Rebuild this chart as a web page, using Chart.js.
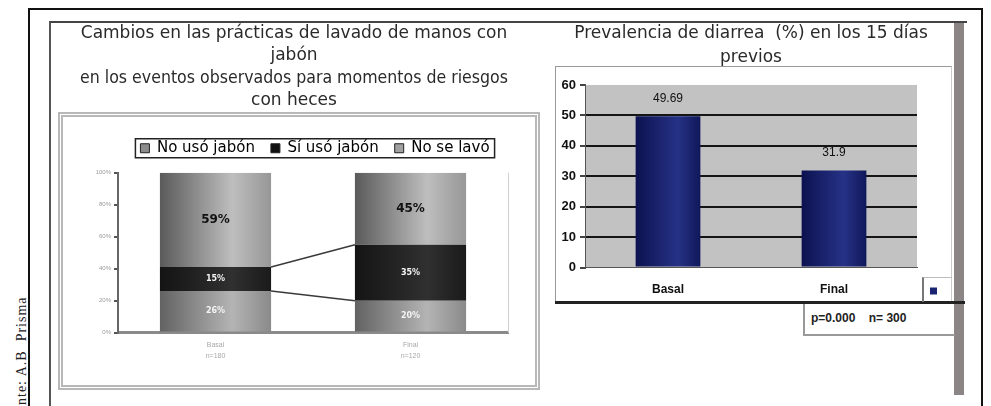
<!DOCTYPE html>
<html>
<head>
<meta charset="utf-8">
<script src="https://cdn.jsdelivr.net/npm/chart.js@4.4.0/dist/chart.umd.min.js"></script>
<style>
body{margin:0;background:#fff;width:991px;height:406px;overflow:hidden;position:relative;font-family:"DejaVu Sans",sans-serif}
.abs{position:absolute}
</style>
</head>
<body>
<div class="abs" style="left:28px;top:8px;width:951px;height:420px;border:2px solid #111"></div>
<div class="abs" style="left:49px;top:21px;width:916px;height:400px;border-left:2px solid #555;border-top:2px solid #444"></div>
<div class="abs" style="left:954px;top:23px;width:10px;height:372px;background:#8c8585"></div>
<div class="abs" style="left:58px;top:112px;width:472px;height:268px;border:5px double #b8b8b8"></div>
<div class="abs" style="left:555px;top:66px;width:395px;height:235px;border-left:1px solid #999;border-top:1px solid #999;border-right:1px solid #ccc"></div>
<div class="abs" style="left:555px;top:301px;width:410px;height:3px;background:#222"></div>
<div class="abs" style="left:922px;top:277px;width:28px;height:24px;border-left:2px solid #777;border-top:1px solid #bbb"></div>
<div class="abs" style="left:803px;top:304px;width:150px;height:30px;border-left:2px solid #999;border-bottom:2px solid #999"></div>
<div class="abs" style="left:811px;top:311px;font:bold 12px 'Liberation Sans';color:#222">p=0.000&nbsp;&nbsp;&nbsp;&nbsp;n= 300</div>
<div class="abs" style="left:14px;top:429px;transform-origin:0 0;transform:rotate(-90deg);font:14px 'Liberation Serif';letter-spacing:1px;white-space:nowrap;color:#222">Fuente: A.B&nbsp;&nbsp;Prisma</div>

<canvas id="izq" class="abs" style="left:50px;top:22px" width="490" height="373"></canvas>
<canvas id="der" class="abs" style="left:540px;top:22px" width="413" height="290"></canvas>

<script>
// grafica de practicas de lavado (100% apilado)
const categoriasLavado = [['Basal', 'n=180'], ['Final', 'n=120']];
const nombresSeries = ['No usó jabón', 'Sí usó jabón', 'No se lavó'];
const noUsoJabon = [26, 20];
const siUsoJabon = [15, 35];
const noSeLavo = [59, 45];

// grafica de prevalencia de diarrea
const categoriasDiarrea = ['Basal', 'Final'];
const prevalencia = [49.69, 31.9];

const tonosGris = [
    ['#626262', '#b4b4b4', '#8a8a8a'],
    ['#141414', '#303030', '#1a1a1a'],
    ['#5a5a5a', '#bebebe', '#979797']
];
const coloresLeyenda = ['#8c8c8c', '#111111', '#a0a0a0'];
const tonoAzul = ['#0c1250', '#263286', '#10185a'];

function degradado(context, tonos, ancho){
    const chart = context.chart;
    const x = chart.scales.x;
    if(!x || !x.width){ return tonos[1]; }
    const cx = x.getPixelForValue(context.dataIndex);
    const w = x.width / x.ticks.length * ancho;
    const g = chart.ctx.createLinearGradient(cx - w / 2, 0, cx + w / 2, 0);
    g.addColorStop(0, tonos[0]);
    g.addColorStop(0.65, tonos[1]);
    g.addColorStop(1, tonos[2]);
    return g;
}

const moverLeyenda = {
    id: 'moverLeyenda',
    afterLayout(chart, args, opts){
        const l = chart.legend;
        l.left += opts.dx || 0; l.right += opts.dx || 0;
        l.top += opts.dy || 0; l.bottom += opts.dy || 0;
    }
};

const extrasIzq = {
    id: 'extrasIzq',
    afterDatasetsDraw(chart){
        const ctx = chart.ctx;
        const y = chart.scales.y;
        const area = chart.chartArea;
        ctx.save();
        // borde derecho del area
        ctx.strokeStyle = '#cfcfcf';
        ctx.lineWidth = 1;
        ctx.beginPath();
        ctx.moveTo(area.right + 0.5, area.top);
        ctx.lineTo(area.right + 0.5, area.bottom);
        ctx.stroke();
        // lineas de serie
        const b0 = chart.getDatasetMeta(0).data;
        ctx.strokeStyle = '#3a3a3a';
        ctx.lineWidth = 1.5;
        let acum0 = 0, acum1 = 0;
        for(let d = 0; d < 2; d++){
            acum0 += chart.data.datasets[d].data[0];
            acum1 += chart.data.datasets[d].data[1];
            ctx.beginPath();
            ctx.moveTo(b0[0].x + b0[0].width / 2, y.getPixelForValue(acum0));
            ctx.lineTo(b0[1].x - b0[1].width / 2, y.getPixelForValue(acum1));
            ctx.stroke();
        }
        // etiquetas
        ctx.textAlign = 'center';
        ctx.textBaseline = 'middle';
        chart.data.datasets.forEach((ds, i) => {
            chart.getDatasetMeta(i).data.forEach((el, j) => {
                const cy = (el.y + el.base) / 2;
                if(i === 2){
                    ctx.fillStyle = '#111';
                    ctx.font = 'bold 12px "DejaVu Sans"';
                } else {
                    ctx.fillStyle = '#f4f4f4';
                    ctx.font = 'bold 8px "DejaVu Sans"';
                }
                ctx.fillText(ds.data[j] + '%', el.x, cy);
            });
        });
        ctx.restore();
    },
    afterDraw(chart){
        const cajas = chart.legend.legendHitBoxes;
        if(!cajas || !cajas.length){ return; }
        const ctx = chart.ctx;
        let izq = Infinity, der = -Infinity, arr = Infinity, abj = -Infinity;
        cajas.forEach(c => {
            izq = Math.min(izq, c.left); der = Math.max(der, c.left + c.width);
            arr = Math.min(arr, c.top); abj = Math.max(abj, c.top + c.height);
        });
        ctx.save();
        ctx.strokeStyle = '#222';
        ctx.lineWidth = 1.5;
        ctx.strokeRect(izq - 5, arr - 2, der - izq + 10, abj - arr + 4);
        ctx.restore();
    }
};

new Chart(document.getElementById('izq'), {
    type: 'bar',
    data: {
        labels: categoriasLavado,
        datasets: [
            {label: nombresSeries[0], data: noUsoJabon, backgroundColor: c => degradado(c, tonosGris[0], 0.57)},
            {label: nombresSeries[1], data: siUsoJabon, backgroundColor: c => degradado(c, tonosGris[1], 0.57)},
            {label: nombresSeries[2], data: noSeLavo, backgroundColor: c => degradado(c, tonosGris[2], 0.57)}
        ]
    },
    options: {
        responsive: false,
        animation: false,
        datasets: {bar: {categoryPercentage: 1, barPercentage: 0.57, borderWidth: 0}},
        layout: {padding: {left: 30, right: 32, top: 0, bottom: 26}},
        plugins: {
            title: {
                display: true,
                text: ['Cambios en las prácticas de lavado de manos con', 'jabón', 'en los eventos observados para momentos de riesgos', 'con heces'],
                font: {family: 'DejaVu Sans', size: 17, weight: 'normal', lineHeight: 1.32},
                color: '#2a2a2a',
                padding: {top: 0, bottom: 20}
            },
            legend: {
                position: 'top',
                labels: {
                    font: {family: 'DejaVu Sans', size: 15},
                    color: '#111',
                    boxWidth: 9,
                    boxHeight: 9,
                    padding: 16,
                    generateLabels: chart => chart.data.datasets.map((ds, i) => ({
                        text: ds.label, fillStyle: coloresLeyenda[i], strokeStyle: '#222', lineWidth: 1, datasetIndex: i
                    }))
                }
            },
            moverLeyenda: {dx: 21, dy: -7},
            tooltip: {enabled: false}
        },
        scales: {
            x: {
                stacked: true,
                grid: {display: false, drawTicks: false},
                border: {color: '#8a8a8a', width: 3},
                ticks: {font: {family: 'Liberation Sans', size: 7, lineHeight: 1.6}, color: '#a8a8a8', padding: 7}
            },
            y: {
                stacked: true,
                min: 0,
                max: 100,
                ticks: {stepSize: 20, callback: v => v + '%', font: {family: 'Liberation Sans', size: 6}, color: '#9a9a9a', padding: 3},
                grid: {drawOnChartArea: false, tickLength: 4, color: '#555', lineWidth: 2},
                border: {color: '#666', width: 2},
                afterFit: s => { s.width = 38; }
            }
        }
    },
    plugins: [moverLeyenda, extrasIzq]
});

const extrasDer = {
    id: 'extrasDer',
    beforeDraw(chart){
        const a = chart.chartArea;
        const ctx = chart.ctx;
        ctx.save();
        ctx.fillStyle = '#c2c2c2';
        ctx.fillRect(a.left, a.top, a.right - a.left, a.bottom - a.top);
        ctx.restore();
    },
    afterDatasetsDraw(chart){
        const ctx = chart.ctx;
        ctx.save();
        ctx.fillStyle = '#111';
        ctx.font = '12px "Liberation Sans"';
        ctx.textAlign = 'center';
        ctx.textBaseline = 'middle';
        chart.getDatasetMeta(0).data.forEach((el, j) => {
            ctx.fillText(String(chart.data.datasets[0].data[j]), el.x, el.y - 18);
        });
        ctx.restore();
    }
};

new Chart(document.getElementById('der'), {
    type: 'bar',
    data: {
        labels: categoriasDiarrea,
        datasets: [{label: '', data: prevalencia, backgroundColor: c => degradado(c, tonoAzul, 0.39)}]
    },
    options: {
        responsive: false,
        animation: false,
        datasets: {bar: {categoryPercentage: 1, barPercentage: 0.39, borderWidth: 0}},
        layout: {padding: {left: 10, right: 1, top: 0, bottom: 0}},
        plugins: {
            title: {
                display: true,
                text: ['Prevalencia de diarrea  (%) en los 15 días', 'previos'],
                font: {family: 'DejaVu Sans', size: 17, weight: 'normal', lineHeight: 1.41},
                color: '#2a2a2a',
                padding: {top: 0, bottom: 15}
            },
            legend: {
                position: 'right',
                align: 'end',
                labels: {
                    boxWidth: 7,
                    boxHeight: 7,
                    padding: 13,
                    font: {size: 10},
                    generateLabels: () => [{text: '', fillStyle: '#1b2470', strokeStyle: '#1b2470', lineWidth: 0, datasetIndex: 0}]
                }
            },
            moverLeyenda: {dx: 0, dy: -3},
            tooltip: {enabled: false}
        },
        scales: {
            x: {
                grid: {display: false, drawTicks: false},
                border: {color: '#555', width: 1},
                ticks: {font: {family: 'Liberation Sans', size: 12, weight: 'bold'}, color: '#111', padding: 15}
            },
            y: {
                min: 0,
                max: 60,
                ticks: {stepSize: 10, font: {family: 'Liberation Sans', size: 13, weight: 'bold'}, color: '#111', padding: 4},
                grid: {
                    color: c => (c.tick && (c.tick.value === 60 || c.tick.value === 0)) ? 'rgba(0,0,0,0)' : '#151515',
                    lineWidth: 2,
                    tickLength: 5,
                    tickColor: '#444'
                },
                border: {color: '#555', width: 1},
                afterFit: s => { s.width = 35; }
            }
        }
    },
    plugins: [moverLeyenda, extrasDer]
});
</script>
</body>
</html>
